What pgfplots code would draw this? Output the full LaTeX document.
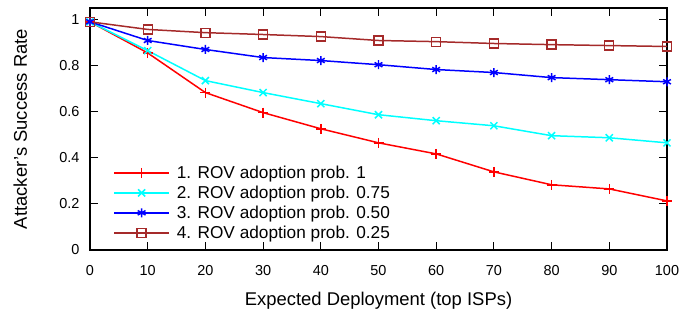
\documentclass[border=0pt]{standalone}
\usepackage{pgfplots}
\pgfplotsset{compat=1.18}
\usepackage{fontspec}
\setmainfont{Liberation Sans}
\definecolor{redc}{RGB}{255,0,0}
\definecolor{cyanc}{RGB}{0,255,255}
\definecolor{bluec}{RGB}{0,0,255}
\definecolor{brownc}{RGB}{165,42,42}
\begin{document}
\begin{tikzpicture}
\path[use as bounding box] (-90bp,-66bp) rectangle (607bp,250bp);
\begin{axis}[
  at={(0,0)}, anchor=south west,
  scale only axis,
  width=577bp, height=242bp,
  xmin=0, xmax=100, ymin=0, ymax=1.05,
  xtick={0,10,...,100},
  ytick={0,0.2,0.4,0.6,0.8,1},
  yticklabels={0,0.2,0.4,0.6,0.8,1},
  tick align=inside,
  major tick length=8bp,
  axis line style={line width=1.2pt},
  tick style={line width=1pt, black},
  /pgf/number format/assume math mode=true,
  tick label style={font=\fontsize{14.5}{17}\selectfont},
  xticklabel style={yshift=-12bp},
  yticklabel style={xshift=-7bp},
  xlabel={Expected Deployment (top ISPs)},
  ylabel={Attacker's Success Rate},
  label style={font=\fontsize{18.5}{21}\selectfont},
  xlabel style={at={(axis description cs:0.5,0)}, anchor=base, yshift=-55bp},
  ylabel style={at={([xshift=-63bp]axis description cs:0,0.5)}, anchor=base},
  legend style={draw=none, fill=none, at={(axis description cs:0.035,0.025)}, anchor=south west,
    font=\fontsize{17.3}{20}\selectfont, row sep=2bp,
    /tikz/every odd column/.append style={column sep=5bp}},
  legend image code/.code={%
    \draw[#1, mark=none] (0bp,0bp) -- (55bp,0bp);
    \draw[#1, only marks] plot coordinates {(27.5bp,0bp)};},
  legend cell align=left,
  clip=false,
]
\addplot[redc, line width=1.5pt, mark=+, mark size=5bp, mark options={line width=1.5pt}] coordinates {
(0,0.99) (10,0.855) (20,0.683) (30,0.596) (40,0.526) (50,0.465) (60,0.417) (70,0.339) (80,0.283) (90,0.265) (100,0.213)};
\addlegendentry{1. ROV adoption prob. 1}
\addplot[cyanc, line width=1.5pt, mark=x, mark size=5bp, mark options={line width=1.5pt}] coordinates {
(0,0.99) (10,0.865) (20,0.735) (30,0.683) (40,0.635) (50,0.587) (60,0.561) (70,0.539) (80,0.496) (90,0.487) (100,0.465)};
\addlegendentry{2. ROV adoption prob. 0.75}
\addplot[bluec, line width=1.5pt, mark=asterisk, mark size=4.5bp, mark options={line width=1.5pt}] coordinates {
(0,0.99) (10,0.909) (20,0.87) (30,0.835) (40,0.822) (50,0.804) (60,0.783) (70,0.77) (80,0.748) (90,0.739) (100,0.73)};
\addlegendentry{3. ROV adoption prob. 0.50}
\addplot[brownc, line width=1.5pt, mark=square, mark size=4.5bp, mark options={line width=1.3pt}] coordinates {
(0,0.99) (10,0.957) (20,0.943) (30,0.935) (40,0.926) (50,0.909) (60,0.904) (70,0.896) (80,0.891) (90,0.887) (100,0.883)};
\addlegendentry{4. ROV adoption prob. 0.25}
\end{axis}
\end{tikzpicture}
\end{document}
